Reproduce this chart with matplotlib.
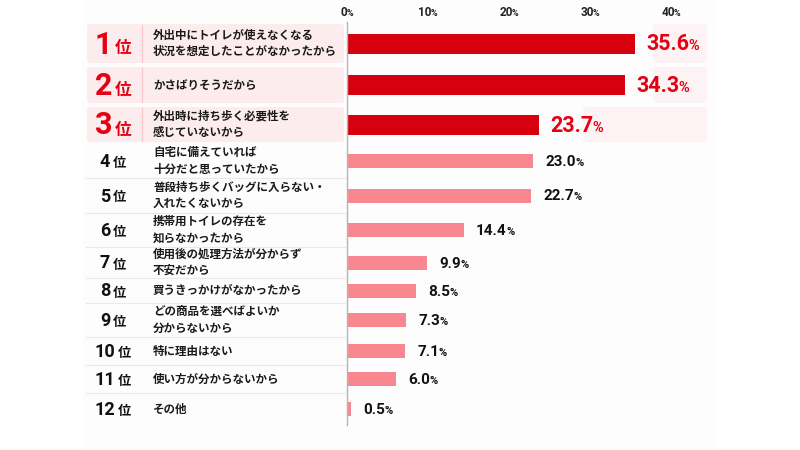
import numpy as np
import matplotlib
matplotlib.use('Agg')
import matplotlib.pyplot as plt
from matplotlib.patches import FancyBboxPatch, Rectangle
from matplotlib.offsetbox import TextArea, HPacker, AnnotationBbox

plt.rcParams['font.family'] = ['Noto Sans CJK JP', 'DejaVu Sans']

# data
ranks = [1, 2, 3, 4, 5, 6, 7, 8, 9, 10, 11, 12]
reasons = [
    '外出中にトイレが使えなくなる\n状況を想定したことがなかったから',
    'かさばりそうだから',
    '外出時に持ち歩く必要性を\n感じていないから',
    '自宅に備えていれば\n十分だと思っていたから',
    '普段持ち歩くバッグに入らない・\n入れたくないから',
    '携帯用トイレの存在を\n知らなかったから',
    '使用後の処理方法が分からず\n不安だから',
    '買うきっかけがなかったから',
    'どの商品を選べばよいか\n分からないから',
    '特に理由はない',
    '使い方が分からないから',
    'その他',
]
values = [35.6, 34.3, 23.7, 23.0, 22.7, 14.4, 9.9, 8.5, 7.3, 7.1, 6.0, 0.5]
xticks = [0, 10, 20, 30, 40]

# layout (pixels)
row_h = np.array([43, 40, 39, 34, 35, 34, 31, 25, 34, 28, 28, 32])
row_top = 22 + np.concatenate([[0], np.cumsum(row_h)[:-1]])
row_c = row_top + row_h / 2
TOP = 3
RED = '#d7000f'
RED_TXT = '#e50012'
PINK_BAR = '#f8878f'
PINK_BG = '#fdeced'
PX_PER = 8.1
NUMFONT = ['Roboto', 'DejaVu Sans']


def num_pct(num, color, size, pct_size):
    a = TextArea(num, textprops=dict(color=color, fontsize=size, fontweight='bold', family=NUMFONT))
    b = TextArea('%', textprops=dict(color=color, fontsize=pct_size, fontweight='bold', family=NUMFONT))
    return HPacker(children=[a, b], align='baseline', pad=0, sep=-0.5)


fig = plt.figure(figsize=(8, 4.5), dpi=100)
fig.patch.set_facecolor('white')

bg = fig.add_axes([0, 0, 1, 1], zorder=0)
bg.set_xlim(0, 800)
bg.set_ylim(450, 0)
bg.axis('off')
bg.add_patch(Rectangle((82, 0), 636, 450, color='#fdfdfd', lw=0))

# top-3 pink rows
right_box_x = [653, 653, 583]
for i in range(TOP):
    y0 = row_top[i] + 2
    h = row_h[i] - 4
    bg.add_patch(FancyBboxPatch((87, y0), 257, h, boxstyle='round,pad=0,rounding_size=3',
                                fc=PINK_BG, ec='none'))
    bg.add_patch(FancyBboxPatch((right_box_x[i], y0), 707 - right_box_x[i], h,
                                boxstyle='round,pad=0,rounding_size=3',
                                fc='#fdf3f4', ec='none'))
    bg.plot([142, 142], [y0 + 1, y0 + h - 1], color='#f6c9cd', lw=1)

# separators for other rows
for i in range(TOP, len(ranks) - 1):
    yb = row_top[i] + row_h[i]
    bg.plot([86, 345], [yb, yb], color='#e9e9e9', lw=0.8)

# rank labels and reasons
for i, (r, txt) in enumerate(zip(ranks, reasons)):
    if i < TOP:
        num = TextArea(str(r), textprops=dict(color=RED_TXT, fontsize=22, fontweight='bold', family=NUMFONT))
        unit = TextArea('位', textprops=dict(color=RED_TXT, fontsize=12, fontweight='bold'))
    else:
        num = TextArea(str(r), textprops=dict(color='#111111', fontsize=13, fontweight='bold', family=NUMFONT))
        unit = TextArea('位', textprops=dict(color='#111111', fontsize=9.5, fontweight='bold'))
    pack = HPacker(children=[num, unit], align='baseline', pad=0, sep=2)
    bg.add_artist(AnnotationBbox(pack, (113, row_c[i] + 1), frameon=False,
                                 box_alignment=(0.5, 0.5), xycoords='data'))
    bg.text(153, row_c[i], txt, ha='left', va='center', fontsize=8.3, color='#1a1a1a',
            fontweight='bold', linespacing=1.35)

# bars
ax = fig.add_axes([347 / 800, 0, 360 / 800, 1], zorder=1)
ax.patch.set_alpha(0)
ax.set_xlim(0, 360 / PX_PER)
ax.set_ylim(450, 0)
colors = [RED if i < TOP else PINK_BAR for i in range(len(values))]
heights = [20 if i < TOP else 14 for i in range(len(values))]
ax.barh(row_c, values, height=heights, color=colors, zorder=2)
ax.plot([0, 0], [22, 425], color='#b5b5b5', lw=1, zorder=3, clip_on=False)
for s in ax.spines.values():
    s.set_visible(False)
ax.set_xticks([])
ax.set_yticks([])

# value labels
for i, v in enumerate(values):
    if i < TOP:
        pack = num_pct(f'{v:.1f}', RED_TXT, 15.5, 10.5)
        off = 8
    else:
        pack = num_pct(f'{v:.1f}', '#111111', 11, 8)
        off = 9
    ax.add_artist(AnnotationBbox(pack, (v, row_c[i] + 1), xybox=(off, 0), xycoords='data',
                                 boxcoords='offset points', box_alignment=(0, 0.5),
                                 frameon=False, annotation_clip=False))

# tick labels on top
for t in xticks:
    pack = num_pct(str(t), '#222222', 8.5, 6.5)
    ax.add_artist(AnnotationBbox(pack, (t, 13), xycoords='data', box_alignment=(0.5, 0.5),
                                 frameon=False, annotation_clip=False))

fig.savefig('out.png', dpi=100, facecolor='white')
